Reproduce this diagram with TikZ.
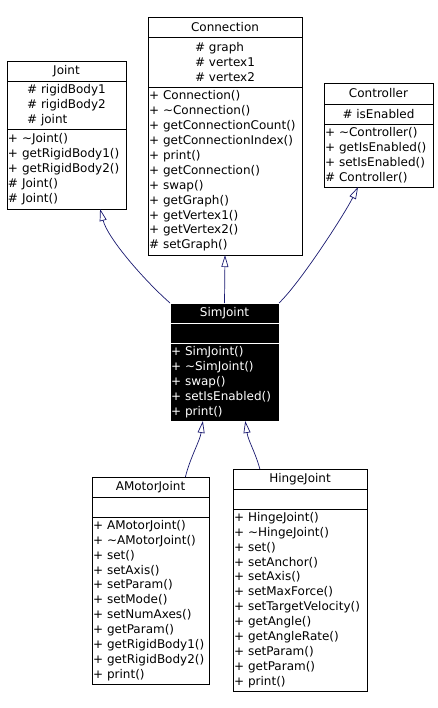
\documentclass[tikz,border=0pt]{standalone}
\usepackage{fontspec}
\setmainfont{DejaVu Sans}
\usetikzlibrary{arrows.meta, positioning}
\definecolor{midnight}{HTML}{191970}
\newcommand{\tld}{\textasciitilde}

\begin{document}
\begin{tikzpicture}[x=1pt, y=-1pt, line width=0.8pt,
        box/.style={draw, outer sep=0pt, inner xsep=1pt, inner ysep=1pt, font=\fontsize{12}{14.9}\selectfont},
        clsname/.style={box, minimum width=#1, minimum height=20pt},
        clsattr/.style={box, align=left, minimum width=#1},
        clsops/.style={box, align=left, text width=#1},
        focus/.style={fill=black, draw=white, text=white},
        inherit/.style={draw=midnight, line width=0.7pt, -{Triangle[open, length=12pt, width=7pt]}}]
    \useasboundingbox (0,0) rectangle (438,708);
    % base classes
    \node[clsname=119pt] (joint) at (66.5, 71) {Joint};
    \node[clsattr=119pt, minimum height=48pt, below=0pt of joint] (jointattr) {\# rigidBody1\\\# rigidBody2\\\# joint};
    \node[clsops=117pt, minimum height=80pt, below=0pt of jointattr] (jointops) {+ \tld Joint()\\+ getRigidBody1()\\+ getRigidBody2()\\\# Joint()\\\# Joint()};
    \node[clsname=154pt] (connection) at (225, 27) {Connection};
    \node[clsattr=154pt, minimum height=50pt, below=0pt of connection] (connectionattr) {\# graph\\\# vertex1\\\# vertex2};
    \node[clsops=152pt, minimum height=168pt, below=0pt of connectionattr] (connectionops) {+ Connection()\\+ \tld Connection()\\+ getConnectionCount()\\+ getConnectionIndex()\\+ print()\\+ getConnection()\\+ swap()\\+ getGraph()\\+ getVertex1()\\+ getVertex2()\\\# setGraph()};
    \node[clsname=109pt, minimum height=21pt] (controller) at (378.5, 93.5) {Controller};
    \node[clsattr=109pt, minimum height=20pt, below=0pt of controller] (controllerattr) {\# isEnabled};
    \node[clsops=107pt, minimum height=63pt, below=0pt of controllerattr] (controllerops) {+ \tld Controller()\\+ getIsEnabled()\\+ setIsEnabled()\\\# Controller()};
    % SimJoint
    \node[clsname=109pt, focus] (simjoint) at (224.5, 313) {SimJoint};
    \node[clsattr=109pt, focus, minimum height=20pt, below=0pt of simjoint] (simjointattr) {};
    \node[clsops=107pt, focus, minimum height=78pt, below=0pt of simjointattr] (simjointops) {+ SimJoint()\\+ \tld SimJoint()\\+ swap()\\+ setIsEnabled()\\+ print()};
    % derived classes
    \node[clsname=117pt] (amotor) at (150.5, 487) {AMotorJoint};
    \node[clsattr=117pt, minimum height=20pt, below=0pt of amotor] (amotorattr) {};
    \node[clsops=115pt, minimum height=167pt, below=0pt of amotorattr] (amotorops) {+ AMotorJoint()\\+ \tld AMotorJoint()\\+ set()\\+ setAxis()\\+ setParam()\\+ setMode()\\+ setNumAxes()\\+ getParam()\\+ getRigidBody1()\\+ getRigidBody2()\\+ print()};
    \node[clsname=134pt] (hinge) at (300, 479) {HingeJoint};
    \node[clsattr=134pt, minimum height=20pt, below=0pt of hinge] (hingeattr) {};
    \node[clsops=132pt, minimum height=182pt, below=0pt of hingeattr] (hingeops) {+ HingeJoint()\\+ \tld HingeJoint()\\+ set()\\+ setAnchor()\\+ setAxis()\\+ setMaxForce()\\+ setTargetVelocity()\\+ getAngle()\\+ getAngleRate()\\+ setParam()\\+ getParam()\\+ print()};
    % inheritance
    \draw[inherit] (simjoint.north west) .. controls +(-25,-22) and +(8,30) .. (jointops.-50);
    \draw[inherit] (simjoint.north) -- (connectionops.south);
    \draw[inherit] (simjoint.north east) .. controls +(21,-20) and +(-14,28) .. (controllerops.-123);
    \draw[inherit] (amotor.16) .. controls +(5,-20) and +(-3,20) .. (simjointops.-119);
    \draw[inherit] (hinge.166) .. controls +(-5,-18) and +(3,20) .. (simjointops.-62);
\end{tikzpicture}
\end{document}
